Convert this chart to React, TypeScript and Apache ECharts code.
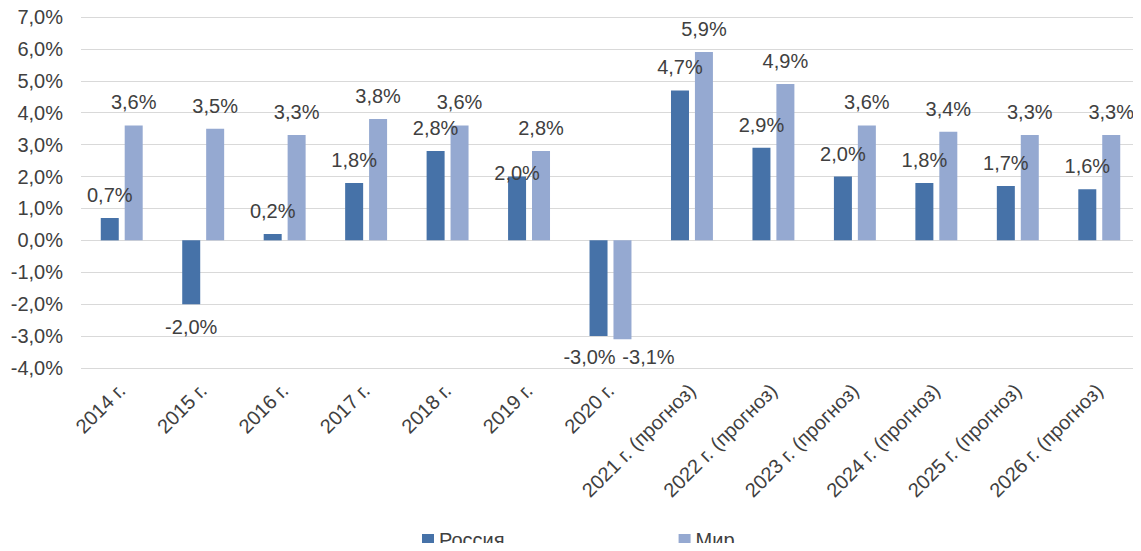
import React, { useEffect, useRef } from "react";
import * as echarts from "echarts";

const categories = [
  "2014 г.", "2015 г.", "2016 г.", "2017 г.", "2018 г.", "2019 г.", "2020 г.",
  "2021 г. (прогноз)", "2022 г. (прогноз)", "2023 г. (прогноз)", "2024 г. (прогноз)",
  "2025 г. (прогноз)", "2026 г. (прогноз)",
];
const russia = [0.7, -2.0, 0.2, 1.8, 2.8, 2.0, -3.0, 4.7, 2.9, 2.0, 1.8, 1.7, 1.6];
const world = [3.6, 3.5, 3.3, 3.8, 3.6, 2.8, -3.1, 5.9, 4.9, 3.6, 3.4, 3.3, 3.3];
const seriesNames = ["Россия", "Мир"];
const yMin = -4;
const yMax = 7;
const yStep = 1;

const fmt = (v: number) => v.toFixed(1).replace(".", ",") + "%";
const FONT = "Liberation Sans, Arial, sans-serif";
const TEXT = "#404040";
const FS = 20;

function buildData(values: number[], overrides: Record<number, any> = {}) {
  return values.map((v, i) => ({
    value: v,
    label: {
      position: v < 0 ? "bottom" : "top",
      ...(overrides[i] || {}),
    },
  }));
}

export default function App() {
  const ref = useRef<HTMLDivElement>(null);
  useEffect(() => {
    if (!ref.current) return;
    const chart = echarts.init(ref.current, undefined, { renderer: "svg" });
    const labelBase = {
      show: true,
      distance: 13,
      fontSize: FS,
      fontFamily: FONT,
      color: TEXT,
      formatter: (p: any) => fmt(p.value),
    };
    chart.setOption({
      animation: false,
      textStyle: { fontFamily: FONT },
      grid: { left: 81, right: 1, top: 17, bottom: 183, containLabel: false },
      legend: {
        top: 530,
        left: 422,
        padding: 0,
        itemGap: 174,
        itemWidth: 12,
        itemHeight: 12,
        icon: "rect",
        textStyle: { fontSize: FS, color: TEXT, fontFamily: FONT, lineHeight: 20 },
        data: seriesNames,
      },
      xAxis: {
        type: "category",
        data: categories,
        axisLine: { show: false },
        axisTick: { show: false },
        axisLabel: {
          rotate: 45,
          fontSize: FS,
          color: TEXT,
          fontFamily: FONT,
          margin: 19,
          interval: 0,
        },
      },
      yAxis: {
        type: "value",
        min: yMin,
        max: yMax,
        interval: yStep,
        axisLine: { show: false },
        axisTick: { show: false },
        axisLabel: {
          fontSize: FS,
          color: TEXT,
          fontFamily: FONT,
          margin: 18,
          formatter: (v: number) => fmt(v),
        },
        splitLine: { lineStyle: { color: "#d9d9d9", width: 1 } },
      },
      series: [
        {
          name: seriesNames[0],
          type: "bar",
          barWidth: 18,
          barGap: "33%",
          itemStyle: { color: "#4672a8" },
          label: labelBase,
          data: buildData(russia, {
            5: { offset: [0, 19] },
            6: { offset: [-9, -2] },
          }),
        },
        {
          name: seriesNames[1],
          type: "bar",
          barWidth: 18,
          itemStyle: { color: "#95a9d1" },
          label: labelBase,
          data: buildData(world, { 6: { offset: [26, -5] } }),
        },
      ],
    });
    return () => chart.dispose();
  }, []);
  return <div ref={ref} style={{ width: 1141, height: 551, margin: -8 }} />;
}
